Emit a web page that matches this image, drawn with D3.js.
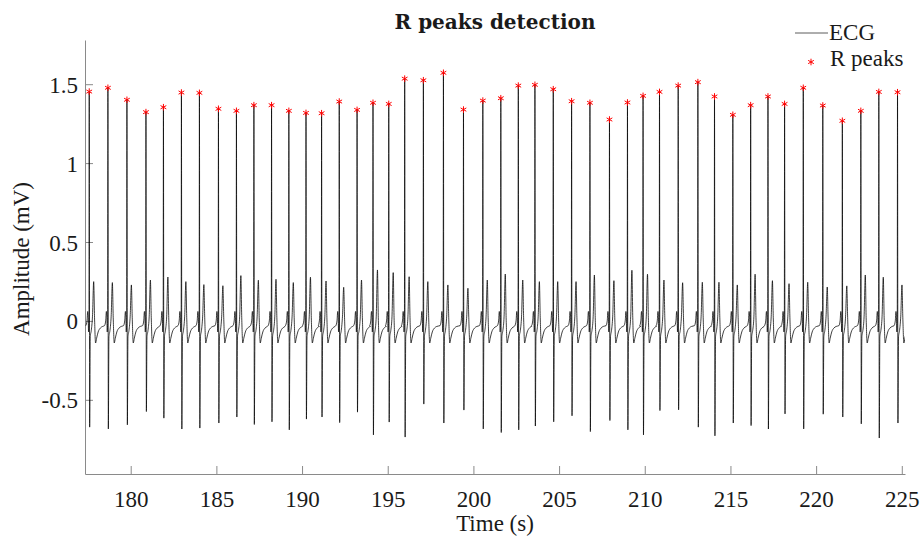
<!DOCTYPE html>
<html>
<head>
<meta charset="utf-8">
<script src="https://cdn.jsdelivr.net/npm/d3@7"></script>
<style>
  body { margin: 0; background: #fff; }
  text { font-family: "Liberation Serif", "DejaVu Serif", serif; fill: #1a1a1a; }
</style>
</head>
<body>
<svg id="chart" width="923" height="540"></svg>
<script>
// R peak times (s)
const rTimes = [177.58, 178.67, 179.78, 180.89, 181.91, 182.96, 184.01, 185.12, 186.17, 187.19,
    188.22, 189.23, 190.23, 191.14, 192.17, 193.21, 194.14, 195.06, 195.99, 197.08,
    198.25, 199.42, 200.55, 201.60, 202.62, 203.59, 204.66, 205.73, 206.80, 207.94,
    208.99, 209.90, 210.86, 211.95, 213.10, 214.07, 215.14, 216.18, 217.19, 218.16,
    219.25, 220.39, 221.53, 222.61, 223.66, 224.75];
// R peak amplitudes (mV)
const rAmps = [1.453, 1.477, 1.401, 1.323, 1.354, 1.447, 1.445, 1.344, 1.331, 1.367,
    1.367, 1.331, 1.318, 1.316, 1.390, 1.337, 1.382, 1.375, 1.535, 1.525,
    1.572, 1.339, 1.396, 1.411, 1.491, 1.496, 1.468, 1.392, 1.382, 1.276,
    1.384, 1.426, 1.451, 1.491, 1.513, 1.422, 1.306, 1.367, 1.422, 1.375,
    1.477, 1.365, 1.268, 1.331, 1.451, 1.449];
// S trough right after each R
const sAmps = [-0.673, -0.684, -0.658, -0.574, -0.616, -0.685, -0.679, -0.647, -0.609, -0.656,
    -0.639, -0.690, -0.622, -0.609, -0.644, -0.578, -0.722, -0.641, -0.736, -0.527,
    -0.647, -0.565, -0.684, -0.707, -0.690, -0.666, -0.639, -0.601, -0.701, -0.631,
    -0.690, -0.722, -0.568, -0.563, -0.673, -0.728, -0.647, -0.663, -0.685, -0.589,
    -0.684, -0.591, -0.609, -0.652, -0.742, -0.647];
// T wave tops
const tAmps = [0.249, 0.243, 0.228, 0.259, 0.278, 0.249, 0.230, 0.223, 0.287, 0.258,
    0.264, 0.243, 0.277, 0.253, 0.213, 0.259, 0.323, 0.306, 0.280, 0.249,
    0.228, 0.207, 0.259, 0.297, 0.259, 0.249, 0.249, 0.249, 0.291, 0.255,
    0.321, 0.296, 0.259, 0.242, 0.245, 0.245, 0.228, 0.296, 0.255, 0.236,
    0.245, 0.215, 0.222, 0.291, 0.277, 0.228];
// shape of one beat around its R peak: [offset (s), value], "R"/"S"/"T" filled per beat
const beatShape = [[-0.20, -0.03], [-0.13, 0.0], [-0.09, 0.06], [-0.06, 0.02], [-0.04, -0.07],
    [-0.015, 0.0], [0, "R"], [0.025, "S"], [0.06, -0.10], [0.12, -0.06], [0.19, 0.03],
    [0.26, "T"], [0.31, 0.02], [0.37, -0.14], [0.43, -0.11], [0.52, -0.07], [0.65, -0.045],
    [0.78, -0.035]];

const xTicks = [180, 185, 190, 195, 200, 205, 210, 215, 220, 225];
const yTicks = [-0.5, 0, 0.5, 1, 1.5];
const xLimits = [177.333, 225.187];
const yLimits = [-0.97, 1.78];

//build the ecg trace from the beat values
let ecg = [];
rTimes.forEach((t, i) => {
    let vals = {R: rAmps[i], S: sAmps[i], T: tAmps[i]};
    for (let [dt, v] of beatShape){
        ecg.push({t: t + dt, v: typeof v === "string" ? vals[v] : v});
    }
});
let peaks = rTimes.map((t, i) => ({t: t, v: rAmps[i]}));

const svg = d3.select("#chart");
const plot = {left: 85, right: 905, top: 40, bottom: 474};
const FONT = 23;

let x = d3.scaleLinear().domain(xLimits).range([plot.left, plot.right]);
let y = d3.scaleLinear().domain(yLimits).range([plot.bottom, plot.top]);

svg.append("defs").append("clipPath").attr("id", "plotClip")
    .append("rect")
    .attr("x", plot.left).attr("y", plot.top)
    .attr("width", plot.right - plot.left)
    .attr("height", plot.bottom - plot.top);

//axes
let xAxis = d3.axisBottom(x).tickValues(xTicks).tickFormat(d => String(d))
    .tickSizeInner(-8).tickSizeOuter(0).tickPadding(17);
let yAxis = d3.axisLeft(y).tickValues(yTicks).tickFormat(d => String(d))
    .tickSizeInner(-8).tickSizeOuter(0).tickPadding(7);

let gx = svg.append("g").attr("transform", `translate(0,${plot.bottom})`).call(xAxis);
let gy = svg.append("g").attr("transform", `translate(${plot.left},0)`).call(yAxis);
for (let g of [gx, gy]){
    g.select(".domain").attr("stroke", "#8a8a8a");
    g.selectAll(".tick line").attr("stroke", "#8a8a8a");
    g.selectAll(".tick text").attr("fill", "#1a1a1a")
        .style("font-size", FONT + "px")
        .style("font-family", "'Liberation Serif', serif");
}
gy.selectAll(".tick text").attr("dy", "0.35em");

//ecg line
let line = d3.line().x(d => x(d.t)).y(d => y(d.v)).curve(d3.curveMonotoneX);
svg.append("g").attr("clip-path", "url(#plotClip)")
    .append("path")
    .datum(ecg)
    .attr("d", line)
    .attr("fill", "none")
    .attr("stroke", "#000")
    .attr("stroke-width", 0.75)
    .attr("stroke-linejoin", "round");

//r peak markers
let star = d3.symbol().type(d3.symbolAsterisk).size(30);
svg.append("g").selectAll("path").data(peaks).join("path")
    .attr("transform", d => `translate(${x(d.t)},${y(d.v)})`)
    .attr("d", star)
    .attr("fill", "none")
    .attr("stroke", "#ff0000")
    .attr("stroke-width", 1);

//labels
svg.append("text")
    .attr("x", 495).attr("y", 29)
    .attr("text-anchor", "middle")
    .attr("font-weight", "bold")
    .style("font-family", "'DejaVu Serif', serif")
    .style("font-size", "20px")
    .text("R peaks detection");
svg.append("text")
    .attr("x", (plot.left + plot.right) / 2).attr("y", 531)
    .attr("text-anchor", "middle")
    .style("font-size", FONT + "px")
    .text("Time (s)");
svg.append("text")
    .attr("transform", "translate(29,259) rotate(-90)")
    .attr("text-anchor", "middle")
    .style("font-size", FONT + "px")
    .text("Amplitude (mV)");

//legend
let legend = svg.append("g");
legend.append("line")
    .attr("x1", 795).attr("x2", 828).attr("y1", 33).attr("y2", 33)
    .attr("stroke", "#333").attr("stroke-width", 0.8);
legend.append("text").attr("x", 829).attr("y", 40)
    .style("font-size", FONT + "px").text("ECG");
legend.append("path")
    .attr("transform", "translate(811,62)")
    .attr("d", star)
    .attr("fill", "none").attr("stroke", "#ff0000").attr("stroke-width", 1);
legend.append("text").attr("x", 830).attr("y", 66)
    .style("font-size", FONT + "px").text("R peaks");
</script>
</body>
</html>
